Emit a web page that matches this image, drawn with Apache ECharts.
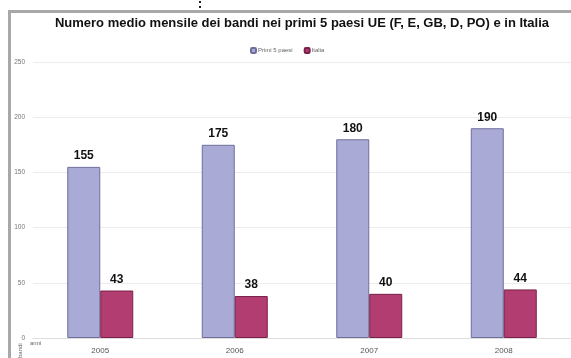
<!DOCTYPE html>
<html><head><meta charset="utf-8">
<script src="https://cdn.jsdelivr.net/npm/echarts@6/dist/echarts.min.js"></script>
<style>html,body{margin:0;padding:0;background:#fff}#c{width:571px;height:358px}</style>
</head><body><div id="c"></div>
<script>
var categories = ['2005', '2006', '2007', '2008'];
var primi5 = [155, 175, 180, 190];
var italia = [43, 38, 40, 44];
var yTicks = [0, 50, 100, 150, 200, 250];
var chart = echarts.init(document.getElementById('c'), null, {renderer: 'canvas'});
chart.setOption({
  animation: false,
  backgroundColor: '#fff',
  textStyle: {fontFamily: 'Liberation Sans, Arial, sans-serif'},
  title: {
    text: 'Numero medio mensile dei bandi nei primi 5 paesi UE (F, E, GB, D, PO) e in Italia',
    left: 297, top: 12, textAlign: 'center',
    textStyle: {fontSize: 13, fontWeight: 'bold', color: '#111', fontFamily: 'Liberation Sans, Arial, sans-serif'}
  },
  legend: {
    left: 245, top: 42, itemWidth: 5, itemHeight: 5, itemGap: 11,
    textStyle: {fontSize: 6, color: '#666', padding: [0, 0, 0, -3]},
    data: ['Primi 5 paesi', 'Italia']
  },
  grid: {left: 33, top: 62, width: 542, height: 276, containLabel: false},
  xAxis: {
    type: 'category', data: categories,
    axisLine: {lineStyle: {color: '#ddd'}},
    axisTick: {show: false},
    axisLabel: {fontSize: 8, color: '#555', margin: 9}
  },
  yAxis: {
    type: 'value', min: 0, max: 250, interval: 50,
    axisLine: {show: false}, axisTick: {show: false},
    axisLabel: {fontSize: 6.5, color: '#777', margin: 8,
      formatter: function (v) { return yTicks.indexOf(v) >= 0 ? String(v) : ''; }},
    splitLine: {lineStyle: {color: '#ececec'}}
  },
  series: [
    {name: 'Primi 5 paesi', type: 'bar', data: primi5, barWidth: 33, barGap: '0%',
      itemStyle: {color: '#aaaad6', borderColor: '#6e6e9c', borderWidth: 1},
      label: {show: true, position: 'top', distance: 5, fontSize: 12, fontWeight: 'bold', color: '#111'}},
    {name: 'Italia', type: 'bar', data: italia, barWidth: 33,
      itemStyle: {color: '#b23d70', borderColor: '#7a2048', borderWidth: 1},
      label: {show: true, position: 'top', distance: 5, fontSize: 12, fontWeight: 'bold', color: '#111'}}
  ],
  graphic: [
    {type: 'rect', shape: {x: 8, y: 11, width: 3, height: 347}, style: {fill: '#a8a8a8'}},
    {type: 'rect', shape: {x: 8, y: 10, width: 563, height: 3}, style: {fill: '#a8a8a8'}},
    {type: 'rect', shape: {x: 199, y: 1, width: 2, height: 2}, style: {fill: '#222'}},
    {type: 'rect', shape: {x: 199, y: 6, width: 2, height: 2}, style: {fill: '#222'}},
    {type: 'text', left: 30, top: 340, style: {text: 'anni', fontSize: 6, fill: '#666'}},
    {type: 'text', x: 17, y: 358, rotation: Math.PI / 2, style: {text: 'bandi', fontSize: 6, fill: '#666'}}
  ]
});
</script></body></html>
